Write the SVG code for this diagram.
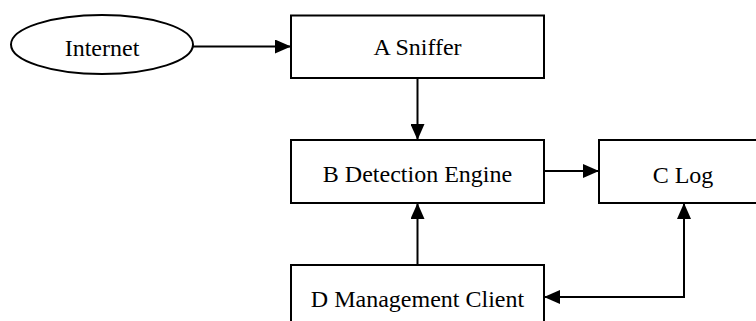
<svg xmlns="http://www.w3.org/2000/svg" width="756" height="321" viewBox="0 0 756 321">
<style>
.box{fill:#fff;stroke:#000;stroke-width:2}
.lbl{font-family:"Liberation Serif","Times New Roman",serif;font-size:24px;fill:#000;text-anchor:middle}
.con{fill:none;stroke:#000;stroke-width:2}
</style>
<defs>
<marker id="ah" markerUnits="userSpaceOnUse" markerWidth="16" markerHeight="14" refX="16" refY="7" orient="auto">
<path d="M0,0 L16,7 L0,14 Z" fill="#000"/>
</marker>
<marker id="as" markerUnits="userSpaceOnUse" markerWidth="16" markerHeight="14" refX="16" refY="7" orient="auto-start-reverse">
<path d="M0,0 L16,7 L0,14 Z" fill="#000"/>
</marker>
</defs>
<g id="connectors">
<line class="con" x1="193" y1="46.5" x2="291" y2="46.5" marker-end="url(#ah)"/>
<line class="con" x1="417.5" y1="78" x2="417.5" y2="140" marker-end="url(#ah)"/>
<line class="con" x1="544" y1="171" x2="599" y2="171" marker-end="url(#ah)"/>
<line class="con" x1="417.5" y1="265" x2="417.5" y2="203" marker-end="url(#ah)"/>
<polyline class="con" points="684,203 684,297 544,297" marker-start="url(#as)" marker-end="url(#ah)"/>
</g>
<g id="internet">
<ellipse cx="102" cy="44.5" rx="91" ry="29.5" fill="#fff" stroke="#000" stroke-width="2"/>
<text class="lbl" x="102" y="56">Internet</text>
</g>
<g id="a-sniffer">
<rect class="box" x="291" y="15.5" width="253" height="62.5"/>
<text class="lbl" x="417.5" y="55">A Sniffer</text>
</g>
<g id="b-detection-engine">
<rect class="box" x="291" y="140" width="253" height="63"/>
<text class="lbl" x="417.5" y="181.5">B Detection Engine</text>
</g>
<g id="c-log">
<rect class="box" x="599" y="140" width="168" height="63"/>
<text class="lbl" x="683" y="182.5">C Log</text>
</g>
<g id="d-management-client">
<rect class="box" x="291" y="265" width="253" height="70"/>
<text class="lbl" x="417.5" y="306.5">D Management Client</text>
</g>
</svg>
